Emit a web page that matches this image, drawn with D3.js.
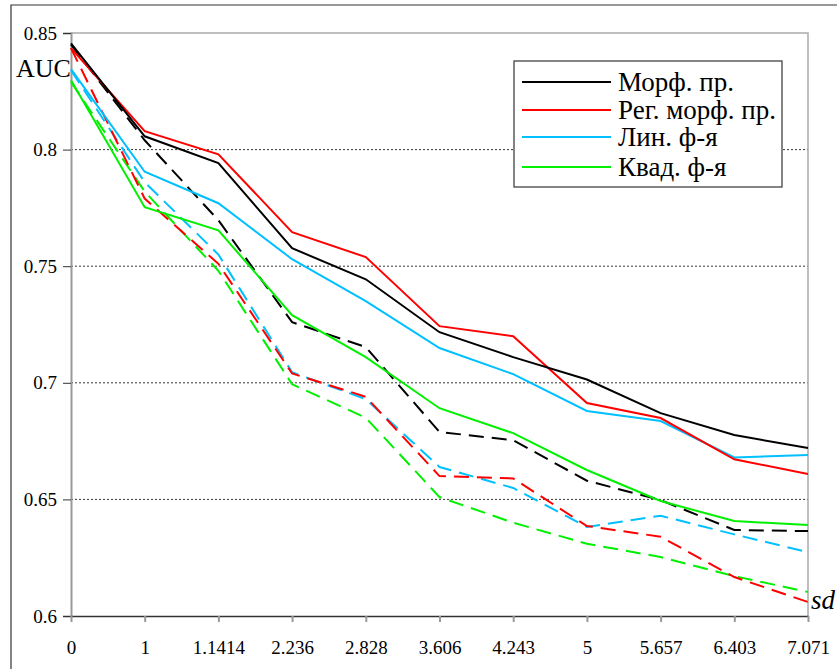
<!DOCTYPE html>
<html lang='en'>
  <head>
    <meta charset='utf-8'>
    <style type='text/css'>
      body {margin: 0; background-color: #fff;}
      svg {display: block;}
      svg text {font-family: 'Liberation Serif', 'DejaVu Serif', serif; fill: #000;}
    </style>
  </head>
  <body>
    <svg id='chart' width='837' height='669'></svg>
    <script src='https://cdn.jsdelivr.net/npm/d3@7'></script>
    <script type='text/javascript'>
        // x categories (sd), evenly spaced
        var sdLabels = ["0", "1", "1.1414", "2.236", "2.828", "3.606", "4.243", "5", "5.657", "6.403", "7.071"];
        var yTicks = [0.6, 0.65, 0.7, 0.75, 0.8, 0.85];

        // solid lines
        var morph    = [0.8456, 0.8057, 0.7942, 0.7577, 0.7444, 0.7217, 0.7110, 0.7014, 0.6870, 0.6776, 0.6720];
        var regMorph = [0.8435, 0.8079, 0.7980, 0.7646, 0.7539, 0.7243, 0.7200, 0.6913, 0.6849, 0.6672, 0.6609];
        var lin      = [0.8345, 0.7905, 0.7770, 0.7530, 0.7350, 0.7149, 0.7037, 0.6879, 0.6836, 0.6680, 0.6690];
        var quad     = [0.8297, 0.7753, 0.7654, 0.7290, 0.7110, 0.6891, 0.6784, 0.6626, 0.6493, 0.6407, 0.6390];

        // dashed lines
        var morphD    = [0.8450, 0.8040, 0.7697, 0.7260, 0.7153, 0.6789, 0.6754, 0.6580, 0.6497, 0.6369, 0.6364];
        var regMorphD = [0.8435, 0.7790, 0.7510, 0.7040, 0.6940, 0.6600, 0.6590, 0.6386, 0.6340, 0.6167, 0.6060];
        var linD      = [0.8340, 0.7860, 0.7550, 0.7045, 0.6930, 0.6639, 0.6549, 0.6382, 0.6430, 0.6350, 0.6274];
        var quadD     = [0.8290, 0.7820, 0.7480, 0.6994, 0.6850, 0.6510, 0.6400, 0.6310, 0.6253, 0.6171, 0.6103];

        var legendNames = ["Морф. пр.", "Рег. морф. пр.", "Лин. ф-я", "Квад. ф-я"];
        var colors = ["#000000", "#ff0000", "#00c0ff", "#00f000"];

        var series = [
          {v: morph, c: 0, dash: false}, {v: regMorph, c: 1, dash: false},
          {v: lin, c: 2, dash: false}, {v: quad, c: 3, dash: false},
          {v: morphD, c: 0, dash: true}, {v: regMorphD, c: 1, dash: true},
          {v: linD, c: 2, dash: true}, {v: quadD, c: 3, dash: true}
        ];

        var svg = d3.select("#chart");
        var pLeft = 71, pRight = 808, pTop = 33, pBottom = 616;
        var serif = "'Liberation Serif', serif";

        var x = d3.scalePoint().domain(sdLabels).range([pLeft, pRight]);
        var y = d3.scaleLinear().domain([0.6, 0.85]).range([pBottom, pTop]);

        // outer frame
        svg.append("path").attr("d", "M11,669V5H837")
          .attr("fill", "none").attr("stroke", "#333").attr("stroke-width", 1.2);

        // grid lines
        svg.append("g").selectAll("line")
          .data(yTicks.filter(function(d){ return d > 0.6 && d < 0.85; }))
          .enter().append("line")
          .attr("x1", pLeft).attr("x2", pRight)
          .attr("y1", function(d){ return y(d); }).attr("y2", function(d){ return y(d); })
          .attr("stroke", "#000").attr("stroke-width", 0.8).attr("stroke-dasharray", "2,2");

        // plot border (top & right) in gray
        svg.append("path")
          .attr("d", "M" + pLeft + "," + pTop + "H" + pRight + "V" + pBottom)
          .attr("fill", "none").attr("stroke", "#aaa").attr("stroke-width", 1.5);

        // y axis
        var yAxis = svg.append("g").attr("transform", "translate(" + pLeft + ",0)")
          .call(d3.axisLeft(y).tickValues(yTicks).tickSize(8).tickPadding(6)
            .tickFormat(function(d){ return String(+d.toFixed(2)); }));
        yAxis.attr("font-family", serif).attr("font-size", 19);
        yAxis.select(".domain").attr("stroke", "#999").attr("stroke-width", 2);
        yAxis.selectAll(".tick line").attr("stroke", "#333");

        // x axis
        var xAxis = svg.append("g").attr("transform", "translate(0," + pBottom + ")")
          .call(d3.axisBottom(x).tickSize(6).tickPadding(19).tickSizeOuter(0));
        xAxis.attr("font-family", serif).attr("font-size", 19);
        xAxis.select(".domain").attr("stroke", "#333").attr("stroke-width", 1.5);
        xAxis.selectAll(".tick line").attr("stroke", "#999").attr("stroke-width", 2);

        // lines
        var line = d3.line()
          .x(function(d, i){ return x(sdLabels[i]); })
          .y(function(d){ return y(d); });

        svg.append("g").selectAll("path")
          .data(series.slice().reverse())
          .enter().append("path")
          .attr("d", function(d){ return line(d.v); })
          .attr("fill", "none")
          .attr("stroke", function(d){ return colors[d.c]; })
          .attr("stroke-width", 2)
          .attr("stroke-dasharray", function(d){ return d.dash ? "15,8" : null; });

        // axis titles
        svg.append("text").attr("x", 16).attr("y", 77)
          .style("font-size", "26px").text("AUC");
        svg.append("text").attr("x", 811).attr("y", 609)
          .style("font-size", "27px").style("font-style", "italic").text("sd");

        // legend
        var lg = svg.append("g").attr("transform", "translate(514,61)");
        lg.append("rect").attr("width", 268).attr("height", 126)
          .attr("fill", "#fff").attr("stroke", "#333").attr("stroke-width", 1.2);
        var rows = [21, 49, 76, 106];
        legendNames.forEach(function(name, i) {
          lg.append("line").attr("x1", 8).attr("x2", 97)
            .attr("y1", rows[i]).attr("y2", rows[i])
            .attr("stroke", colors[i]).attr("stroke-width", 2);
          lg.append("text").attr("x", 104).attr("y", rows[i] + 9)
            .style("font-size", "27px").text(name);
        });
    </script>
  </body>
</html>
